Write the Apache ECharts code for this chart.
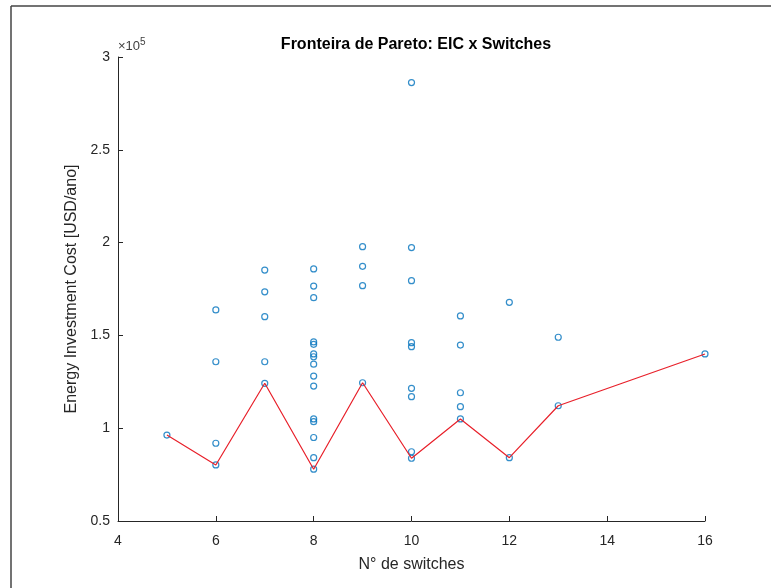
<!DOCTYPE html>
<html>
	<head>
		<meta charset="UTF-8">
		<title>Fronteira de Pareto</title>
		<script src="https://cdn.jsdelivr.net/npm/echarts@6/dist/echarts.min.js"></script>
		<style>
			html, body { margin: 0; padding: 0; background: #fff; }
			#main { width: 771px; height: 588px; }
		</style>
	</head>
	<body>
		<div id="main"></div>
		<script type="text/javascript">
			// todas as solucoes (x = numero de switches, y = EIC em USD/ano)
			var allSwitches = [5,
				6, 6, 6, 6,
				7, 7, 7, 7, 7,
				8, 8, 8, 8, 8, 8, 8, 8, 8, 8, 8, 8, 8, 8, 8,
				9, 9, 9, 9,
				10, 10, 10, 10, 10, 10, 10, 10, 10,
				11, 11, 11, 11, 11,
				12, 12,
				13, 13,
				16];
			var allEic = [96300,
				163700, 135800, 91900, 80200,
				185200, 173500, 160100, 135800, 124200,
				185800, 176600, 170300, 146500, 145200, 140000, 138500, 134500, 128100, 122700, 105000, 103500, 95000, 84100, 77900,
				197800, 187200, 176800, 124500,
				286200, 197300, 179500, 146100, 143900, 121500, 117000, 87300, 83800,
				160500, 144800, 119100, 111600, 105000,
				167800, 84100,
				149000, 112100,
				140000];

			// fronteira de pareto
			var paretoSwitches = [5, 6, 7, 8, 9, 10, 11, 12, 13, 16];
			var paretoEic = [96300, 80200, 124200, 77900, 124500, 83800, 105000, 84100, 112100, 140000];

			var xTicks = [4, 6, 8, 10, 12, 14, 16];
			var yTicks = [0.5, 1, 1.5, 2, 2.5, 3]; // x 10^5

			var font = '"Liberation Sans", Arial, Helvetica, sans-serif';
			var txt = '#262626';

			var scatterData = allSwitches.map(function (s, i) { return [s, allEic[i]]; });
			var paretoData = paretoSwitches.map(function (s, i) { return [s, paretoEic[i]]; });

			var myChart = echarts.init(document.getElementById('main'));

			var option = {
				backgroundColor: '#fff',
				animation: false,
				title: {
					text: 'Fronteira de Pareto: EIC x Switches',
					left: 411,
					textAlign: 'center',
					top: 32,
					textStyle: { fontFamily: font, fontSize: 16, fontWeight: 'bold', color: '#000' }
				},
				grid: { left: 118, right: 66, top: 57, bottom: 67 },
				xAxis: {
					type: 'value',
					min: xTicks[0],
					max: xTicks[xTicks.length - 1],
					interval: 2,
					name: 'N° de switches',
					nameLocation: 'middle',
					nameGap: 36,
					nameTextStyle: { fontFamily: font, fontSize: 16, color: txt },
					axisLine: { lineStyle: { color: txt, width: 1 } },
					axisTick: { inside: true, length: 5, lineStyle: { color: txt } },
					axisLabel: { fontFamily: font, fontSize: 14, color: txt, margin: 13 },
					splitLine: { show: false }
				},
				yAxis: {
					type: 'value',
					min: yTicks[0] * 1e5,
					max: yTicks[yTicks.length - 1] * 1e5,
					interval: 50000,
					name: 'Energy Investment Cost [USD/ano]',
					nameLocation: 'middle',
					nameGap: 37,
					nameRotate: 90,
					nameTextStyle: { fontFamily: font, fontSize: 16, color: txt },
					axisLine: { show: true, lineStyle: { color: txt, width: 1 } },
					axisTick: { show: true, inside: true, length: 5, lineStyle: { color: txt } },
					axisLabel: {
						fontFamily: font, fontSize: 14, color: txt, margin: 8,
						formatter: function (v) { return String(Math.round(v / 1e4) / 10); }
					},
					splitLine: { show: false }
				},
				graphic: [
					{
						type: 'text',
						left: 118,
						top: 37,
						style: {
							text: '×10{s|5}',
							fontSize: 13,
							fontFamily: font,
							fill: '#404040',
							rich: { s: { fontSize: 10, fontFamily: font, fill: '#404040', padding: [0, 0, 8, 0] } }
						}
					},
					{
						type: 'line',
						shape: { x1: 11, y1: 6, x2: 771, y2: 6 },
						style: { stroke: '#444', lineWidth: 1.5 }
					},
					{
						type: 'line',
						shape: { x1: 11, y1: 6, x2: 11, y2: 588 },
						style: { stroke: '#444', lineWidth: 1.5 }
					}
				],
				series: [
					{
						name: 'solucoes',
						type: 'scatter',
						data: scatterData,
						symbol: 'circle',
						symbolSize: 6,
						itemStyle: { color: 'rgba(0,0,0,0)', borderColor: '#0072BD', borderWidth: 1.2 },
						z: 2
					},
					{
						name: 'pareto',
						type: 'line',
						data: paretoData,
						symbol: 'none',
						lineStyle: { color: '#E8202A', width: 1.2 },
						z: 3
					}
				]
			};

			myChart.setOption(option);
		</script>
	</body>
</html>
